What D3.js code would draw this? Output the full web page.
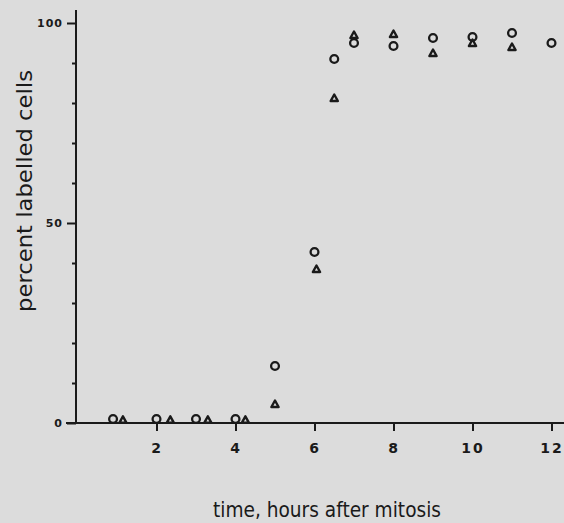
<!DOCTYPE html>
<html><head><meta charset="utf-8">
<script src="https://cdn.jsdelivr.net/npm/d3@7"></script>
<style>
html,body{margin:0;padding:0;background:#dcdcdc;}
svg{display:block;}
</style></head>
<body>
<script>
// Data
const circleTime  = [0.9, 2, 3, 4, 5, 6, 6.5, 7, 8, 9, 10, 11, 12];
const circleValue = [1, 1, 1, 1, 14.25, 42.75, 91, 95, 94.25, 96.25, 96.5, 97.5, 95];
const triangleTime  = [1.15, 2.35, 3.3, 4.25, 5, 6.05, 6.5, 7, 8, 9, 10, 11];
const triangleValue = [0.8, 0.8, 0.8, 0.8, 4.75, 38.5, 81.25, 97, 97.25, 92.5, 95, 94];
const xTickValues = [2, 4, 6, 8, 10, 12];
const yMajorTicks = [0, 50, 100];
const yMinorTicks = [10, 20, 30, 40, 60, 70, 80, 90];

const W = 564, H = 523;
const ink = "#1a1a1a";
const svg = d3.select("body").append("svg").attr("width", W).attr("height", H);
svg.append("rect").attr("width", W).attr("height", H).attr("fill", "#dcdcdc");

const x = d3.scaleLinear().domain([0, 12]).range([77.5, 551.5]);
const y = d3.scaleLinear().domain([0, 100]).range([423, 23]);

// axis lines
svg.append("line").attr("x1", 76).attr("x2", 76).attr("y1", 10).attr("y2", y(0))
  .attr("stroke", ink).attr("stroke-width", 2);
svg.append("line").attr("x1", 66).attr("x2", W).attr("y1", y(0)).attr("y2", y(0))
  .attr("stroke", ink).attr("stroke-width", 2);

// y axis major
const yAxis = d3.axisLeft(y).tickValues(yMajorTicks).tickSize(9).tickPadding(4)
  .tickFormat(d3.format("d"));
const gy = svg.append("g").attr("transform", "translate(76,0)").call(yAxis);
gy.select(".domain").remove();
gy.selectAll(".tick line").attr("stroke", ink).attr("stroke-width", 2);
gy.selectAll(".tick text").attr("fill", ink)
  .style("font-family", "'DejaVu Sans', sans-serif").style("font-size", "11px")
  .style("font-weight", "bold").style("letter-spacing", "1px");

const yMinor = d3.axisLeft(y).tickValues(yMinorTicks).tickSize(4).tickFormat("");
const gy2 = svg.append("g").attr("transform", "translate(76,0)").call(yMinor);
gy2.select(".domain").remove();
gy2.selectAll(".tick line").attr("stroke", ink).attr("stroke-width", 2);

// x axis
const xAxis = d3.axisBottom(x).tickValues(xTickValues).tickSize(8).tickPadding(12)
  .tickFormat(d3.format("d"));
const gx = svg.append("g").attr("transform", `translate(0,${y(0)})`).call(xAxis);
gx.select(".domain").remove();
gx.selectAll(".tick line").attr("stroke", ink).attr("stroke-width", 2);
gx.selectAll(".tick text").attr("fill", ink)
  .style("font-family", "'DejaVu Sans', sans-serif").style("font-size", "14px")
  .style("font-weight", "bold").style("letter-spacing", "2px");

// titles
svg.append("text").attr("x", 327).attr("y", 517).attr("text-anchor", "middle")
  .attr("fill", ink).style("font-family", "'DejaVu Sans', sans-serif")
  .style("font-size", "21px").style("font-weight", "500")
  .attr("textLength", 228).attr("lengthAdjust", "spacingAndGlyphs")
  .text("time, hours after mitosis");
svg.append("text").attr("transform", "translate(32,191) rotate(-90)").attr("text-anchor", "middle")
  .attr("fill", ink).style("font-family", "'DejaVu Sans', sans-serif")
  .style("font-size", "22px").style("font-weight", "500")
  .attr("textLength", 242).attr("lengthAdjust", "spacingAndGlyphs")
  .text("percent labelled cells");

// markers
const circles = circleTime.map((t, i) => ({t, v: circleValue[i]}));
const tris = triangleTime.map((t, i) => ({t, v: triangleValue[i]}));

svg.append("g").selectAll("circle").data(circles).join("circle")
  .attr("cx", d => x(d.t)).attr("cy", d => y(d.v)).attr("r", 3.9)
  .attr("fill", "none").attr("stroke", ink).attr("stroke-width", 2.3);

svg.append("g").selectAll("path").data(tris).join("path")
  .attr("d", d => {
    const cx = x(d.t), cy = y(d.v);
    return `M${cx},${cy - 3.5}L${cx + 3.6},${cy + 3}L${cx - 3.6},${cy + 3}Z`;
  })
  .attr("fill", "none").attr("stroke", ink).attr("stroke-width", 2.4).attr("stroke-linejoin", "round");
</script>
</body></html>
